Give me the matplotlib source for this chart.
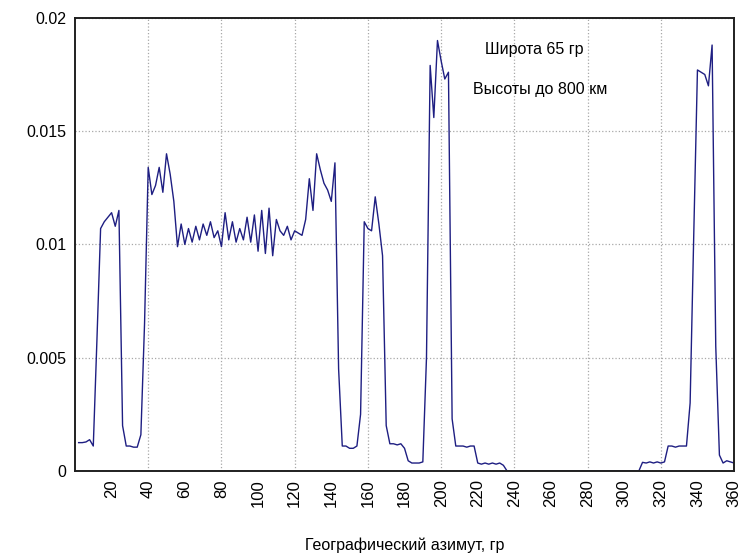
import matplotlib
matplotlib.use("Agg")
import matplotlib.pyplot as plt
from matplotlib.ticker import FixedLocator

plt.rcParams['font.family'] = ['Liberation Sans', 'DejaVu Sans']

azimuth = list(range(2, 361, 2))

values = [
    0.00125, 0.00125, 0.00128, 0.00138, 0.00110,            # 2-10
    0.0058, 0.0107, 0.0110, 0.0112, 0.0114,                 # 12-20
    0.0108, 0.0115, 0.0020, 0.0011, 0.0011,                 # 22-30
    0.00105, 0.00105, 0.0016, 0.0065, 0.0134,               # 32-40
    0.0122, 0.0126, 0.0134, 0.0123, 0.0140,                 # 42-50
    0.0131, 0.0119, 0.0099, 0.0109, 0.0100,                 # 52-60
    0.0107, 0.0101, 0.0108, 0.0102, 0.0109,                 # 62-70
    0.0104, 0.0110, 0.0103, 0.0106, 0.0099,                 # 72-80
    0.0114, 0.0102, 0.0110, 0.0101, 0.0107,                 # 82-90
    0.0102, 0.0112, 0.0101, 0.0113, 0.0097,                 # 92-100
    0.0115, 0.0096, 0.0116, 0.0095, 0.0111,                 # 102-110
    0.0106, 0.0104, 0.0108, 0.0102, 0.0106,                 # 112-120
    0.0105, 0.0104, 0.0111, 0.0129, 0.0115,                 # 122-130
    0.0140, 0.0133, 0.0127, 0.0124, 0.0119,                 # 132-140
    0.0136, 0.0045, 0.0011, 0.0011, 0.0010,                 # 142-150
    0.0010, 0.0011, 0.0025, 0.0110, 0.0107,                 # 152-160
    0.0106, 0.0121, 0.0109, 0.0095, 0.0020,                 # 162-170
    0.0012, 0.0012, 0.00115, 0.0012, 0.0010,                # 172-180
    0.00045, 0.00035, 0.00035, 0.00035, 0.0004,             # 182-190
    0.0050, 0.0179, 0.0156, 0.0190, 0.0181,                 # 192-200
    0.0173, 0.0176, 0.0023, 0.0011, 0.0011,                 # 202-210
    0.0011, 0.00105, 0.0011, 0.0011, 0.00035,               # 212-220
    0.0003, 0.00035, 0.0003, 0.00035, 0.0003,               # 222-230
    0.00035, 0.00025, 0.0, 0.0, 0.0,                        # 232-240
    0.0, 0.0, 0.0, 0.0, 0.0,                                # 242-250
    0.0, 0.0, 0.0, 0.0, 0.0,                                # 252-260
    0.0, 0.0, 0.0, 0.0, 0.0,                                # 262-270
    0.0, 0.0, 0.0, 0.0, 0.0,                                # 272-280
    0.0, 0.0, 0.0, 0.0, 0.0,                                # 282-290
    0.0, 0.0, 0.0, 0.0, 0.0,                                # 292-300
    0.0, 0.0, 0.0, 0.0, 0.00038,                            # 302-310
    0.00035, 0.0004, 0.00035, 0.0004, 0.00035,              # 312-320
    0.0004, 0.0011, 0.0011, 0.00105, 0.0011,                # 322-330
    0.0011, 0.0011, 0.0030, 0.0105, 0.0177,                 # 332-340
    0.0176, 0.0175, 0.0170, 0.0188, 0.0055,                 # 342-350
    0.0007, 0.00035, 0.00045, 0.0004, 0.00035,              # 352-360
]

x_tick_values = list(range(20, 361, 20))
x_grid_values = list(range(40, 361, 40))
y_tick_values = [0, 0.005, 0.01, 0.015, 0.02]
y_tick_labels = ["0", "0.005", "0.01", "0.015", "0.02"]

annotation_lines = ["Широта 65 гр", "Высоты до 800 км"]
x_label = "Географический азимут, гр"

fig = plt.figure(figsize=(7.46, 5.58), dpi=100)
ax = fig.add_axes([0.1005, 0.156, 0.8835, 0.812])

grid_style = dict(linestyle=":", color="#a8a8a8", linewidth=0.9, zorder=0)
for gx in x_grid_values:
    ax.axvline(gx, **grid_style)
ax.yaxis.grid(True, **{k: v for k, v in grid_style.items() if k != "zorder"})
ax.set_axisbelow(True)

ax.plot(azimuth, values, color="#1e1e82", linewidth=1.0, zorder=3)

ax.set_xlim(0, 360)
ax.set_ylim(0, 0.02)

ax.xaxis.set_major_locator(FixedLocator(x_tick_values))
ax.set_yticks(y_tick_values)
ax.set_yticklabels(y_tick_labels)

ax.tick_params(axis="x", which="both", length=0, pad=6, labelsize=12, labelrotation=90)
ax.tick_params(axis="y", which="both", length=0, pad=6, labelsize=11.5)

for s in ax.spines.values():
    s.set_linewidth(1.4)
    s.set_color("#202020")
    s.set_zorder(4)

ax.text(0.622, 0.931, annotation_lines[0], transform=ax.transAxes,
        fontsize=11.5, ha="left", va="center")
ax.text(0.604, 0.842, annotation_lines[1], transform=ax.transAxes,
        fontsize=11.5, ha="left", va="center")

ax.set_xlabel(x_label, fontsize=11.5, labelpad=22)

fig.savefig("out.png", dpi=100)
